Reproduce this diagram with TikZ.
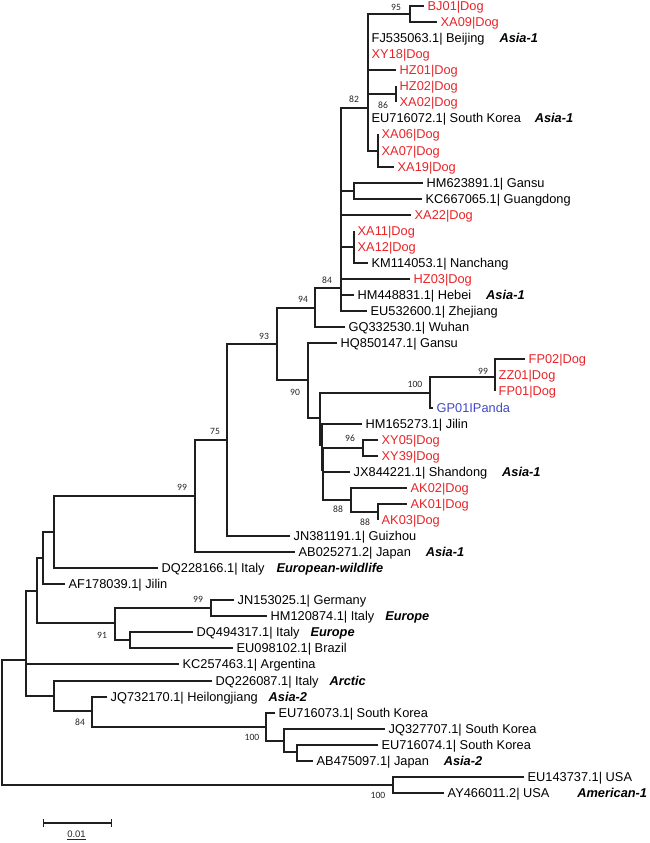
\documentclass[tikz,border=0pt]{standalone}
\usepackage{fontspec}
\setmainfont{Liberation Sans}
\newfontfamily\bootfont{Carlito}
\usetikzlibrary{arrows,arrows.meta,positioning}

\definecolor{dogred}{RGB}{232,36,40}
\definecolor{pandablue}{RGB}{64,72,196}

\tikzset{
  branchline/.style={line width=1.8pt, black!88},
  taxon/.style={anchor=west, inner xsep=3.5pt, inner ysep=0pt, text height=9.2pt, text depth=0pt, font=\fontsize{12.8}{14}\selectfont},
  clade/.style={inner sep=0pt, text height=9.2pt, text depth=0pt, font=\fontsize{12.8}{14}\selectfont\bfseries\itshape},
  bs/.style={inner sep=0pt, black!85, font=\bootfont\fontsize{9.6}{10}\selectfont},
}

\begin{document}
\begin{tikzpicture}[x=1pt, y=-1pt]
    \useasboundingbox (0,0) rectangle (650,843);
    % internal nodes
    \coordinate (root) at (2,722);
    \coordinate (n25) at (26,660);
    \coordinate (n38) at (37,591);
    \coordinate (n43) at (43,558);
    \coordinate (n54) at (54,532);
    \coordinate (n99a) at (195,496);
    \coordinate (n75) at (227,440);
    \coordinate (n93) at (277,344);
    \coordinate (n94) at (315,308);
    \coordinate (n84) at (341,288);
    \coordinate (nC1) at (368,108);
    \coordinate (n95) at (410,14);
    \coordinate (n86) at (396,94);
    \coordinate (nX06) at (378,151);
    \coordinate (nHM) at (354,191);
    \coordinate (nXA11) at (354,247);
    \coordinate (n90) at (308,380);
    \coordinate (nB) at (320,418);
    \coordinate (n100) at (430,393);
    \coordinate (n99f) at (495,377);
    \coordinate (nC) at (322,445);
    \coordinate (nD) at (323,470);
    \coordinate (n96) at (363,448);
    \coordinate (n88a) at (351,500);
    \coordinate (n88b) at (378,512);
    \coordinate (n91) at (115,623);
    \coordinate (n99e) at (211,608);
    \coordinate (nDQ) at (130,640);
    \coordinate (nAr) at (54,696);
    \coordinate (n84b) at (92,711);
    \coordinate (n100b) at (266,727);
    \coordinate (nIn) at (284,741);
    \coordinate (nIn2) at (297,752);
    \coordinate (nAm) at (393,785);

    % taxa
    \foreach \i/\x/\y/\t/\c in {
      1/424/6/BJ01|Dog/dogred, 2/437/22/XA09|Dog/dogred,
      3/368/38/FJ535063.1| Beijing/black, 4/368/54/XY18|Dog/dogred,
      5/396/70/HZ01|Dog/dogred, 6/396/86/HZ02|Dog/dogred,
      7/396/102/XA02|Dog/dogred, 8/368/118/EU716072.1| South Korea/black,
      9/378/134/XA06|Dog/dogred, 10/378/151/XA07|Dog/dogred,
      11/394/167/XA19|Dog/dogred, 12/423/183/HM623891.1| Gansu/black,
      13/422/199/KC667065.1| Guangdong/black, 14/411/215/XA22|Dog/dogred,
      15/354/231/XA11|Dog/dogred, 16/354/247/XA12|Dog/dogred,
      17/368/263/KM114053.1| Nanchang/black, 18/410/279/HZ03|Dog/dogred,
      19/354/295/HM448831.1| Hebei/black, 20/367/311/EU532600.1| Zhejiang/black,
      21/345/327/GQ332530.1| Wuhan/black, 22/337/343/HQ850147.1| Gansu/black,
      23/525/359/FP02|Dog/dogred, 24/495/375/ZZ01|Dog/dogred,
      25/495/391/FP01|Dog/dogred, 26/433/408/GP01IPanda/pandablue,
      27/362/424/HM165273.1| Jilin/black, 28/378/440/XY05|Dog/dogred,
      29/378/456/XY39|Dog/dogred, 30/350/472/JX844221.1| Shandong/black,
      31/407/488/AK02|Dog/dogred, 32/407/504/AK01|Dog/dogred,
      33/378/520/AK03|Dog/dogred, 34/290/536/JN381191.1| Guizhou/black,
      35/295/552/AB025271.2| Japan/black, 36/158/568/DQ228166.1| Italy/black,
      37/65/584/AF178039.1| Jilin/black, 38/234/600/JN153025.1| Germany/black,
      39/267/616/HM120874.1| Italy/black, 40/193/632/DQ494317.1| Italy/black,
      41/233/648/EU098102.1| Brazil/black, 42/179/664/KC257463.1| Argentina/black,
      43/212/681/DQ226087.1| Italy/black, 44/107/697/JQ732170.1| Heilongjiang/black,
      45/275/713/EU716073.1| South Korea/black, 46/385/729/JQ327707.1| South Korea/black,
      47/378/745/EU716074.1| South Korea/black, 48/313/761/AB475097.1| Japan/black,
      49/524/777/EU143737.1| USA/black, 50/444/793/AY466011.2| USA/black} {
      \node[taxon, text=\c] (t\i) at (\x,\y) {\t};
    }

    % clade names
    \foreach \i/\g/\d in {3/Asia-1/11, 8/Asia-1/10, 19/Asia-1/11, 30/Asia-1/11,
      35/Asia-1/11, 36/European-wildlife/8, 39/Europe/7, 40/Europe/7,
      43/Arctic/7, 44/Asia-2/7, 48/Asia-2/11, 50/American-1/24} {
      \node[clade, right=\d pt of t\i] (g\i) {\g};
    }

    % branches
    \foreach \p/\c in {n95/t1.west, n95/t2.west,
      nC1/n95, nC1/t3.west, nC1/t4.west, nC1/t5.west, nC1/n86, nC1/t8.west, nC1/nX06,
      n86/t6.west, n86/t7.west, nX06/t9.west, nX06/t10.west, nX06/t11.west,
      n84/nC1, n84/nHM, n84/t14.west, n84/nXA11, n84/t18.west, n84/t19.west, n84/t20.west,
      nHM/t12.west, nHM/t13.west, nXA11/t15.west, nXA11/t16.west, nXA11/t17.west,
      n94/n84, n94/t21.west, n93/n94, n93/n90, n90/t22.west, n90/nB,
      nB/n100, nB/nC, n100/n99f, n100/t26.west,
      n99f/t23.west, n99f/t24.west, n99f/t25.west,
      nC/t27.west, nC/nD, nD/n96, nD/t30.west, nD/n88a,
      n96/t28.west, n96/t29.west, n88a/t31.west, n88a/n88b,
      n88b/t32.west, n88b/t33.west,
      n75/n93, n75/t34.west, n99a/n75, n99a/t35.west,
      n54/n99a, n54/t36.west, n43/n54, n43/t37.west,
      n38/n43, n38/n91, n91/n99e, n91/nDQ,
      n99e/t38.west, n99e/t39.west, nDQ/t40.west, nDQ/t41.west,
      n25/n38, n25/t42.west, n25/nAr, nAr/t43.west, nAr/n84b,
      n84b/t44.west, n84b/n100b, n100b/t45.west, n100b/nIn,
      nIn/t46.west, nIn/nIn2, nIn2/t47.west, nIn2/t48.west,
      root/n25, root/nAm, nAm/t49.west, nAm/t50.west} {
      \draw[branchline] (\p) |- (\c);
    }

    % bootstrap values
    \foreach \n/\x/\y/\v in {b95/396/7/95, b82/354/99/82, b86/383/105/86,
      b84/327/280/84, b94/303/299/94, b93/264/336/93, b90/295/392/90,
      b100/415/384/100, b99f/483/371/99, b96/350/438/96, b88a/338/509/88,
      b88b/365/522/88, b75/215/431/75, b99a/182/487/99, b91/102/635/91,
      b99e/198/599/99, b84b/80/722/84, b100b/252/737/100, b100c/378/795/100} {
      \node[bs] (\n) at (\x,\y) {\v};
    }

    % scale bar
    \coordinate (sbL) at (43,823);
    \coordinate (sbR) at (112,823);
    \draw[branchline, line width=1.4pt, {Bar[width=8pt]}-{Bar[width=8pt]}] (sbL) -- (sbR);
    \node[bs, font=\fontsize{9.5}{10}\selectfont] (sbt) at (76.5,835) {\underline{0.01}};
\end{tikzpicture}
\end{document}
